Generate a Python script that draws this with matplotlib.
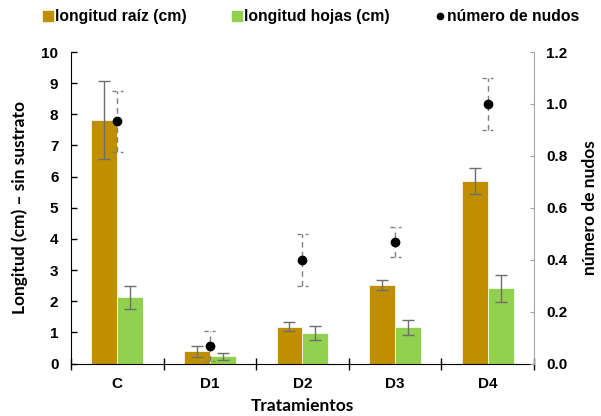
import matplotlib.pyplot as plt
import numpy as np
from matplotlib.lines import Line2D

plt.rcParams['font.family'] = ['Liberation Sans', 'DejaVu Sans']
plt.rcParams['font.weight'] = 'bold'

tratamientos = ['C', 'D1', 'D2', 'D3', 'D4']
raiz = [7.81, 0.39, 1.19, 2.52, 5.86]
raiz_err = [1.25, 0.17, 0.14, 0.16, 0.43]
hojas = [2.13, 0.24, 0.99, 1.16, 2.41]
hojas_err = [0.37, 0.11, 0.23, 0.23, 0.43]
nudos = [0.933, 0.067, 0.400, 0.467, 1.000]
nudos_err = [0.117, 0.058, 0.100, 0.058, 0.100]

c_raiz = '#BF8F00'
c_hojas = '#92D050'
c_err = '#6E6E6E'
title_font = {'family': ['Lato', 'DejaVu Sans'], 'size': 12.5, 'weight': 'bold'}

fig = plt.figure(figsize=(6.01, 4.16), dpi=100)
ax = fig.add_axes([0.118, 0.126, 0.7705, 0.749])
x = np.arange(len(tratamientos))
w = 0.28

ax.bar(x - w / 2, raiz, w, color=c_raiz, edgecolor='white', linewidth=0.5, zorder=2)
ax.bar(x + w / 2, hojas, w, color=c_hojas, edgecolor='white', linewidth=0.5, zorder=2)
ax.errorbar(x - w / 2, raiz, yerr=raiz_err, fmt='none', ecolor=c_err, elinewidth=1,
            capsize=4.5, capthick=1, zorder=3)
ax.errorbar(x + w / 2, hojas, yerr=hojas_err, fmt='none', ecolor=c_err, elinewidth=1,
            capsize=4.5, capthick=1, zorder=3)

ax.set_xlim(-0.5, 4.5)
ax.set_ylim(0, 10)
ax.set_yticks(np.arange(0, 11, 1))
ax.tick_params(axis='y', direction='in', length=4, width=1, labelsize=11, pad=9)
ax.set_xticks(np.arange(-0.5, 5, 1))
ax.set_xticklabels([])
ax.set_xticks(x, minor=True)
ax.set_xticklabels(tratamientos, minor=True, fontsize=11, fontweight='bold')
ax.tick_params(axis='x', which='major', direction='inout', length=9, width=1)
ax.tick_params(axis='x', which='minor', length=0, pad=10)
ax.spines['top'].set_visible(False)
ax.spines['right'].set_visible(False)
ax.set_xlabel('Tratamientos', fontdict=title_font, labelpad=5)
ax.set_ylabel('Longitud (cm) – sin sustrato', fontdict=title_font, labelpad=10)

ax2 = ax.twinx()
ax2.set_ylim(0, 1.2)
ax2.set_yticks(np.arange(0, 1.21, 0.2))
ax2.set_yticklabels([f'{v:.1f}' for v in np.arange(0, 1.21, 0.2)])
ax2.tick_params(axis='y', direction='in', length=3, color='#A6A6A6', labelsize=11, pad=9)
for s in ['top', 'left', 'bottom']:
    ax2.spines[s].set_visible(False)
ax2.spines['right'].set_color('#A6A6A6')
ax2.set_ylabel('número de nudos', fontdict=title_font, labelpad=10)

# dashed error bars for the node counts
lo = np.array(nudos) - np.array(nudos_err)
hi = np.array(nudos) + np.array(nudos_err)
ax2.vlines(x, lo, hi, colors='#7F7F7F', linestyles=(0, (4, 3)), linewidth=1, zorder=3)
cap = 0.06
ax2.hlines(lo, x - cap, x + cap, colors='#7F7F7F', linestyles=(0, (3, 3)), linewidth=1, zorder=3)
ax2.hlines(hi, x - cap, x + cap, colors='#7F7F7F', linestyles=(0, (3, 3)), linewidth=1, zorder=3)
ax2.plot(x, nudos, 'o', color='black', markersize=6, zorder=4)

handles = [
    Line2D([], [], marker='s', linestyle='none', color=c_raiz, markersize=6.5),
    Line2D([], [], marker='s', linestyle='none', color=c_hojas, markersize=6.5),
    Line2D([], [], marker='o', linestyle='none', color='black', markersize=4.5),
]
fig.legend(handles, ['longitud raíz (cm)', 'longitud hojas (cm)', 'número de nudos'],
           loc='upper left', bbox_to_anchor=(0.0715, 0.978), ncol=3, frameon=False,
           borderpad=0, borderaxespad=0,
           handlelength=0.6, handletextpad=0.16, columnspacing=2.9,
           prop={'size': 11.3, 'weight': 'bold'})

fig.savefig('out.png', dpi=100)
